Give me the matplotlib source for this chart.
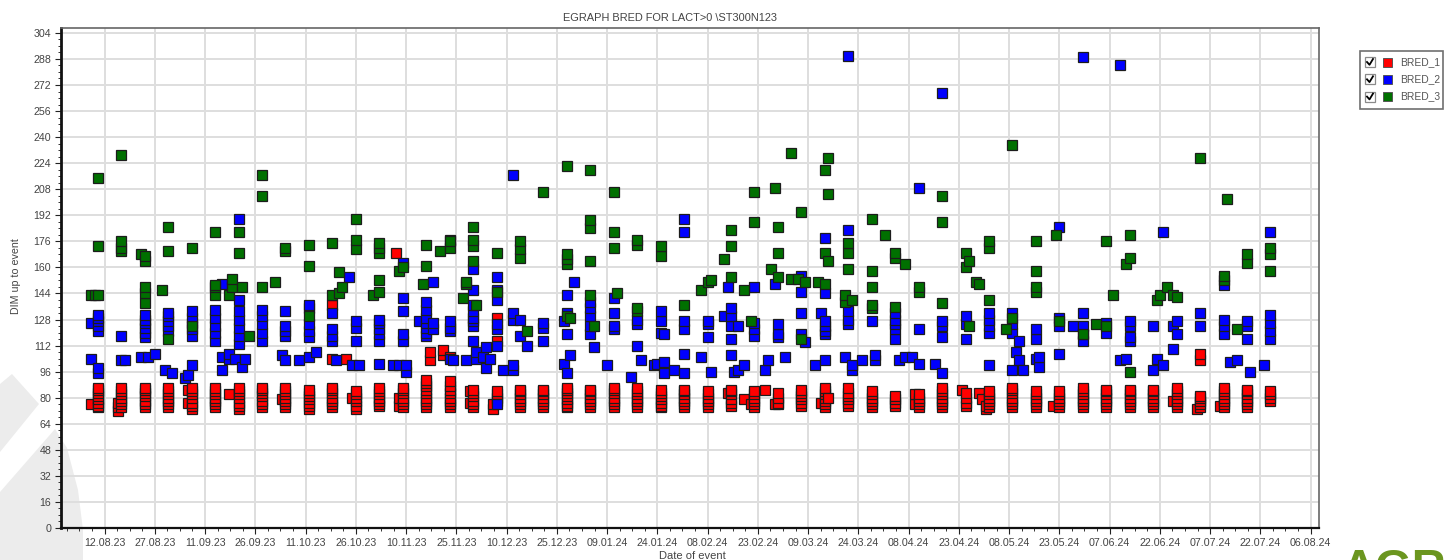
import matplotlib
matplotlib.use("Agg")
import matplotlib.pyplot as plt
from matplotlib.patches import Polygon, Rectangle
from matplotlib.ticker import MultipleLocator

plt.rcParams['font.family'] = ['Liberation Sans', 'DejaVu Sans']

W, H = 1446, 560

# x is days after 12.08.23, y is DIM up to event
tick_days = [0, 15, 30, 45, 60, 75, 90, 105, 120, 135, 150, 165, 180, 195, 210, 225,
             240, 255, 270, 285, 300, 315, 330, 345, 360]
tick_labels = ['12.08.23', '27.08.23', '11.09.23', '26.09.23', '11.10.23', '26.10.23',
               '10.11.23', '25.11.23', '10.12.23', '25.12.23', '09.01.24', '24.01.24',
               '08.02.24', '23.02.24', '09.03.24', '24.03.24', '08.04.24', '23.04.24',
               '08.05.24', '23.05.24', '07.06.24', '22.06.24', '07.07.24', '22.07.24',
               '06.08.24']
y_ticks = [0, 16, 32, 48, 64, 80, 96, 112, 128, 144, 160, 176, 192, 208, 224, 240, 256, 272, 288, 304]

# (day, [DIM values on that day])
bred_1 = [(-4, [76]), (-2, [74, 75, 77, 79, 81, 83, 85, 86]), (4, [72, 74, 77]), (5, [74, 76, 78, 80, 82, 84, 86]),
          (12, [74, 76, 78, 81, 83, 85, 86]), (19, [74, 76, 78, 80, 82, 84, 86]), (25, [77, 85]),
          (26, [73, 75, 77, 80, 82, 84, 86]), (33, [74, 76, 78, 80, 82, 84, 86]), (37, [82]),
          (40, [73, 75, 77, 80, 82, 84, 86]), (47, [74, 76, 78, 81, 83, 85, 86]), (53, [79]),
          (54, [74, 76, 78, 80, 82, 84, 86]), (61, [73, 75, 77, 79, 81, 83, 85]),
          (68, [74, 76, 78, 80, 83, 85, 86, 104, 137]), (72, [104]), (74, [80]), (75, [73, 75, 78, 80, 82, 84]),
          (82, [75, 76, 78, 80, 82, 84, 86]), (87, [169]), (88, [75, 80]), (89, [74, 76, 78, 80, 83, 85, 86]),
          (96, [74, 76, 78, 80, 83, 85, 87, 89, 91]), (97, [103, 108]), (101, [106, 109]),
          (103, [74, 76, 78, 80, 83, 85, 87, 90, 105]), (109, [77, 84]), (110, [74, 76, 78, 81, 83, 85]),
          (116, [73, 76]), (117, [78, 80, 82, 84, 115, 129]), (124, [74, 76, 78, 80, 82, 84, 85]),
          (131, [74, 76, 78, 80, 82, 84, 85]), (138, [74, 75, 77, 79, 81, 83, 85, 86]),
          (145, [74, 76, 78, 80, 82, 84, 85]), (152, [74, 76, 78, 80, 83, 85, 86]),
          (159, [74, 76, 78, 80, 82, 84, 86]), (166, [74, 75, 77, 79, 81, 83, 85]),
          (173, [74, 76, 78, 80, 82, 84, 85]), (180, [74, 76, 78, 80, 82, 84]), (186, [83]),
          (187, [75, 77, 79, 82, 84, 85]), (191, [79]), (193, [76]), (194, [74, 76, 78, 80, 82, 84]),
          (197, [85]), (200, [76]), (201, [76, 77, 80, 83]), (208, [75, 77, 79, 81, 83, 85]), (214, [77]),
          (215, [74, 76, 78, 80, 82, 84, 86]), (216, [80]), (222, [75, 77, 79, 81, 83, 86]),
          (229, [74, 76, 78, 80, 82, 84]), (236, [75, 77, 79, 81]), (242, [76, 82]), (243, [74, 76, 78, 80, 82]),
          (250, [74, 76, 78, 80, 82, 84, 86]), (256, [85]), (257, [75, 77, 80, 83]), (261, [83]), (262, [79]),
          (263, [73, 75]), (264, [74, 76, 78, 80, 82, 84]), (271, [74, 76, 78, 80, 83, 85, 86]),
          (278, [74, 76, 78, 80, 82, 84]), (283, [75]), (285, [74, 76, 78, 80, 82, 84]),
          (292, [74, 76, 78, 80, 82, 84, 86]), (299, [74, 76, 78, 80, 82, 84, 85]),
          (306, [74, 76, 78, 80, 82, 84, 85]), (313, [74, 76, 78, 80, 82, 84, 85]), (319, [78]),
          (320, [74, 76, 78, 80, 82, 84, 86]), (326, [73]), (327, [74, 76, 78, 80, 81, 103, 107]), (333, [75]),
          (334, [74, 76, 78, 80, 82, 84, 86]), (341, [74, 76, 78, 80, 82, 84, 85]), (348, [78, 80, 82, 84])]

bred_2 = [(-4, [104, 126]), (-2, [95, 98, 121, 124, 127, 129, 131]), (5, [103, 118]), (6, [103]), (11, [105]),
          (12, [117, 120, 123, 126, 128, 131]), (13, [105]), (15, [107]), (18, [97]), (19, [121, 124, 127, 130, 132]),
          (20, [95]), (24, [92]), (25, [94]), (26, [100, 118, 122, 126, 129, 133]), (33, [115, 120, 124, 129, 134]),
          (35, [97, 105, 150]), (37, [104, 107]), (39, [104]), (40, [113, 118, 123, 128, 133, 140, 190]), (41, [99]),
          (42, [104]), (47, [115, 120, 125, 130, 134]), (53, [106]), (54, [103, 118, 121, 124, 133]), (58, [103]),
          (61, [105, 117, 121, 125, 135, 137]), (63, [108]), (68, [115, 118, 122, 132]), (69, [103]), (73, [154]),
          (74, [100]), (75, [115, 123, 127]), (76, [100]), (82, [101, 115, 119, 122, 126, 128]), (86, [100]),
          (88, [100]), (89, [115, 119, 133, 141, 163]), (90, [96, 100]), (94, [127]),
          (96, [118, 120, 123, 126, 129, 134, 139]), (98, [122, 126, 151]), (103, [104, 121, 123, 127, 177]),
          (104, [103]), (108, [103]), (110, [115, 124, 127, 129, 133, 137, 146, 159]), (111, [104, 108]), (113, [105]),
          (114, [98, 111]), (115, [104]), (117, [76, 112, 122, 125, 140, 146, 154]), (119, [97]),
          (122, [97, 100, 128, 132, 217]), (124, [118, 128]), (126, [112]), (131, [115, 123, 126]), (137, [101, 127]),
          (138, [95, 119, 132, 143]), (139, [106]), (140, [151]), (145, [119, 124, 130, 135, 139]), (146, [111]),
          (150, [100]), (152, [122, 124, 132, 141]), (157, [93]), (159, [112, 125, 128]), (160, [103]), (164, [100]),
          (165, [101]), (166, [120, 127, 133]), (167, [95, 102, 119]), (170, [97]), (173, [95, 107, 122, 127, 182, 190]),
          (178, [105]), (180, [117, 125, 127]), (181, [96]), (185, [130]), (186, [148]), (187, [106, 116, 124, 130, 135]),
          (188, [96]), (189, [97, 124]), (191, [100]), (194, [118, 122, 126, 148]), (197, [97]), (198, [103]),
          (200, [150]), (201, [117, 119, 125]), (203, [105]), (208, [119, 132, 145, 155]), (209, [114]), (212, [100]),
          (214, [132]), (215, [103, 119, 121, 124, 127, 144, 178]), (221, [105]), (222, [125, 128, 133, 183, 290]),
          (223, [97, 100]), (226, [103]), (229, [127]), (230, [103, 106]), (236, [116, 122, 125, 128, 132]),
          (237, [103]), (239, [105]), (241, [105]), (243, [101, 122, 209]), (248, [101]),
          (250, [95, 117, 124, 127, 267]), (257, [116, 125, 130]), (264, [100, 120, 124, 128, 132]),
          (271, [97, 120, 125, 132]), (272, [108]), (273, [103, 115]), (274, [97]), (278, [104, 116, 122]),
          (279, [99, 105]), (285, [107, 124, 129, 185]), (289, [124]), (292, [115, 119, 124, 132, 289]),
          (299, [120, 126]), (303, [103, 284]), (305, [104]), (306, [115, 117, 124, 127]), (313, [97, 124]),
          (314, [104]), (316, [100, 182]), (319, [110, 124]), (320, [119, 127]), (327, [124, 132]),
          (334, [119, 124, 128, 149]), (336, [102]), (338, [103]), (341, [116, 124, 127]), (342, [96]), (346, [100]),
          (348, [116, 121, 126, 131, 182])]

bred_3 = [(-4, [143]), (-3, [143]), (-2, [143, 173, 215]), (5, [170, 172, 176, 229]), (11, [168]),
          (12, [138, 144, 148, 164, 167]), (17, [146]), (19, [116, 170, 185]), (26, [124, 172]),
          (33, [143, 148, 149, 182]), (37, [143]), (38, [148, 153]), (40, [169, 182]), (41, [148]), (43, [118]),
          (47, [148, 204, 217]), (51, [151]), (54, [170, 172]), (61, [130, 161, 174]), (68, [143, 175]),
          (70, [144, 157]), (71, [148]), (75, [171, 177, 190]), (80, [143]), (82, [145, 152, 169, 172, 175]),
          (88, [158]), (89, [160]), (95, [150]), (96, [161, 174]), (100, [170]), (103, [172, 176]), (107, [141]),
          (108, [150, 151]), (110, [164, 173, 177, 185]), (111, [137]), (117, [145, 169]), (124, [166, 171, 176]),
          (126, [121]), (131, [206]), (138, [130, 162, 165, 168, 222]), (139, [129]), (145, [143, 164, 184, 189, 220]),
          (146, [124]), (152, [172, 182, 206]), (153, [144]), (159, [133, 135, 174, 177]), (166, [167, 173]),
          (173, [137]), (178, [146]), (180, [151]), (181, [152]), (185, [165]), (187, [154, 173, 183]), (191, [146]),
          (193, [127]), (194, [188, 206]), (199, [159]), (200, [209]), (201, [154, 169, 185]), (205, [153, 230]),
          (207, [153]), (208, [116, 194]), (209, [151]), (213, [151]), (215, [150, 169, 220]), (216, [164, 205, 227]),
          (221, [139, 143]), (222, [159, 169, 175]), (223, [140]), (229, [135, 137, 148, 158, 190]), (233, [180]),
          (236, [136, 166, 169]), (239, [162]), (243, [145, 148]), (250, [138, 188, 204]), (257, [160, 169]),
          (258, [124, 164]), (260, [151]), (261, [150]), (264, [140, 172, 176]), (269, [122]), (271, [129, 235]),
          (278, [145, 148, 158, 176]), (284, [180]), (285, [127]), (292, [119]), (296, [125]), (299, [124, 176]),
          (301, [143]), (305, [162]), (306, [96, 166, 180]), (314, [140]), (315, [143]), (317, [148]), (319, [143]),
          (320, [142]), (327, [227]), (334, [152, 155]), (335, [202]), (338, [122]), (341, [163, 168]),
          (348, [158, 168, 172])]

series_colors = ['#ff0000', '#0000ff', '#007000']
series_names = ['BRED_1', 'BRED_2', 'BRED_3']
all_series = [bred_1, bred_2, bred_3]

fig = plt.figure(figsize=(W / 100, H / 100), dpi=100, facecolor='white')


def px_box(x0, y0, x1, y1):
    # pixel box (y down) to figure rect
    return [x0 / W, 1 - y1 / H, (x1 - x0) / W, (y1 - y0) / H]


# watermark behind everything, drawn in pixel coords on a full figure axes
bg = fig.add_axes([0, 0, 1, 1], zorder=0)
bg.set_xlim(0, W)
bg.set_ylim(H, 0)
bg.axis('off')
bg.add_patch(Polygon([(0, 384), (12, 374), (39, 404), (0, 452)], fc='#ececec', ec='none'))
bg.add_patch(Polygon([(0, 492), (55, 429), (67, 448), (78, 490), (83, 530), (83, 560), (0, 560)], fc='#ececec', ec='none'))
bg.text(1342, 582, 'AGR', fontsize=34, fontweight='bold', color='#6b961f', va='baseline', ha='left', clip_on=True)

ax = fig.add_axes(px_box(61, 28, 1319, 528), zorder=1)
ax.patch.set_alpha(0)

for series, col, name in zip(all_series, series_colors, series_names):
    xs = []
    ys = []
    for d, vals in series:
        for v in vals:
            xs.append(d)
            ys.append(v)
    ax.plot(xs, ys, linestyle='none', marker='s', markersize=6.7, markerfacecolor=col,
            markeredgecolor='#1c1c1c', markeredgewidth=0.9, label=name, clip_on=False, zorder=3)

ax.set_xlim(-13, 362.5)
ax.set_ylim(0, 307)
ax.set_xticks(tick_days)
ax.set_xticklabels(tick_labels)
ax.set_yticks(y_ticks)
ax.xaxis.set_minor_locator(MultipleLocator(3.75))
ax.yaxis.set_minor_locator(MultipleLocator(4))
ax.grid(True, which='major', color='#dedede', linewidth=1.4)
ax.set_axisbelow(True)

ax.tick_params(axis='both', which='major', labelsize=7.7, labelcolor='#444444', length=4, width=0.8, color='#222222', pad=3)
ax.tick_params(axis='both', which='minor', length=2, width=0.7, color='#333333')

ax.spines['left'].set_linewidth(2)
ax.spines['bottom'].set_linewidth(1.6)
ax.spines['left'].set_color('#111111')
ax.spines['bottom'].set_color('#111111')
ax.spines['top'].set_color('#666666')
ax.spines['right'].set_color('#666666')
ax.spines['top'].set_linewidth(1.2)
ax.spines['right'].set_linewidth(1.2)

fig.text(670 / W, 1 - 18 / H, 'EGRAPH BRED FOR LACT>0 \\ST300N123', fontsize=7.95, color='#444444', ha='center', va='center')
fig.text(692 / W, 1 - 556 / H, 'Date of event', fontsize=8, color='#444444', ha='center', va='center')
fig.text(16 / W, 1 - 276 / H, 'DIM up to event', fontsize=7.7, color='#444444', ha='center', va='center', rotation=90)

# legend with checkboxes, pixel coords again
leg = fig.add_axes([0, 0, 1, 1], zorder=2)
leg.set_xlim(0, W)
leg.set_ylim(H, 0)
leg.axis('off')
leg.add_patch(Rectangle((1360, 51), 83, 58, fc='white', ec='#707070', lw=1.2))
for i, (col, name) in enumerate(zip(series_colors, series_names)):
    yc = 62 + i * 17.3
    leg.add_patch(Rectangle((1365, yc - 5), 10, 10, fc='white', ec='#8a8a8a', lw=0.9))
    leg.plot([1367, 1369.5, 1373], [yc, yc + 2.8, yc - 3], color='black', lw=1.3)
    leg.add_patch(Rectangle((1383, yc - 4.5), 9, 9, fc=col, ec='#555555', lw=0.7))
    leg.text(1400, yc, name, fontsize=7.4, color='#555555', va='center', ha='left')

fig.savefig('out.png', dpi=100)
